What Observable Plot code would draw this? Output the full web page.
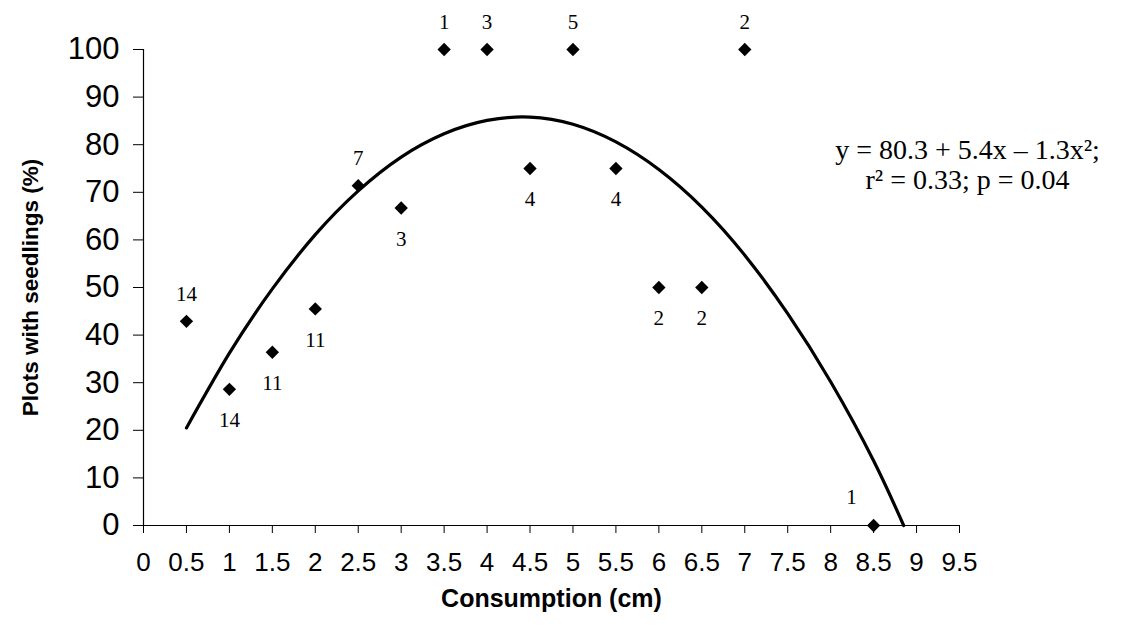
<!DOCTYPE html>
<html>
<head>
<meta charset="utf-8">
<script src="https://cdn.jsdelivr.net/npm/d3@7"></script>
<script src="https://cdn.jsdelivr.net/npm/@observablehq/plot@0.6"></script>
<style>
  html, body { margin: 0; padding: 0; background: #fff; }
</style>
</head>
<body>
<div id="chart"></div>
<script>
// Observed points
const consumption = [0.5, 1, 1.5, 2, 2.5, 3, 3.5, 4, 4.5, 5, 5.5, 6, 6.5, 7, 8.5];
const seedlingsPct = [42.9, 28.6, 36.4, 45.5, 71.4, 66.7, 100, 100, 75, 100, 75, 50, 50, 100, 0];
const sampleSize = ["14", "14", "11", "11", "7", "3", "1", "3", "4", "5", "4", "2", "2", "2", "1"];
const labelSide = ["above", "below", "below", "below", "above", "below", "above", "above", "below", "above", "below", "below", "below", "above", "aboveLeft"];

// Fitted curve
const curveX = [0.5, 1, 1.5, 2, 2.5, 3, 3.5, 4, 4.5, 5, 5.5, 6, 6.5, 7, 7.5, 8, 8.5, 8.85];
const curveY = [20.5, 36.2, 49.7, 61.1, 70.3, 77.4, 82.3, 85.1, 85.8, 84.3, 80.6, 74.8, 66.9, 56.8, 44.5, 30.2, 13.6, 0];

// Axis ticks
const xTicks = d3.range(0, 9.51, 0.5);
const yTicks = d3.range(0, 101, 10);
const xTickLabels = ["0", "0.5", "1", "1.5", "2", "2.5", "3", "3.5", "4", "4.5", "5", "5.5", "6", "6.5", "7", "7.5", "8", "8.5", "9", "9.5"];

const equationText = "y = 80.3 + 5.4x \u2013 1.3x\u00b2;\nr\u00b2 = 0.33; p = 0.04";
const xTitle = "Consumption (cm)";
const yTitle = "Plots with seedlings (%)";

const points = consumption.map((x, i) => ({x, y: seedlingsPct[i], n: sampleSize[i], side: labelSide[i]}));
const curve = curveX.map((x, i) => ({x, y: curveY[i]}));

const serif = "'Liberation Serif', 'Times New Roman', serif";
const sans = "'Liberation Sans', Arial, sans-serif";

const chart = Plot.plot({
  width: 1128,
  height: 638,
  marginLeft: 143,
  marginRight: 169,
  marginTop: 49,
  marginBottom: 113,
  style: {fontFamily: sans, color: "#000", background: "#fff"},
  x: {domain: [0, 9.5]},
  y: {domain: [0, 100]},
  marks: [
    Plot.axisY({ticks: yTicks, tickSize: 10, tickPadding: 14, fontSize: 31, label: null, stroke: "#000"}),
    Plot.axisX({ticks: xTicks, tickFormat: (d, i) => xTickLabels[i], tickSize: 8, tickPadding: 19, fontSize: 26, label: null, stroke: "#000"}),
    Plot.ruleX([0], {stroke: "#000", strokeWidth: 1.2}),
    Plot.ruleY([0], {stroke: "#000", strokeWidth: 1.2}),
    Plot.line(curve, {x: "x", y: "y", curve: "natural", stroke: "#000", strokeWidth: 3.2}),
    Plot.dot(points, {x: "x", y: "y", symbol: "diamond2", r: 6, fill: "#000", stroke: "none"}),
    Plot.text(points.filter(d => d.side === "above"), {x: "x", y: "y", text: "n", dy: -27, fontSize: 21, fontFamily: serif, fill: "#000"}),
    Plot.text(points.filter(d => d.side === "aboveLeft"), {x: "x", y: "y", text: "n", dy: -28, dx: -22, fontSize: 21, fontFamily: serif, fill: "#000"}),
    Plot.text(points.filter(d => d.side === "below"), {x: "x", y: "y", text: "n", dy: 31, fontSize: 21, fontFamily: serif, fill: "#000"}),
    Plot.text([equationText], {frameAnchor: "top-right", lineAnchor: "top", textAnchor: "middle", lineHeight: 1.08, dx: 8, dy: 88, fontSize: 28, fontFamily: serif, fill: "#000"}),
    Plot.text([yTitle], {frameAnchor: "left", textAnchor: "middle", rotate: -90, dx: -113, fontSize: 22.5, fontWeight: "bold", fontFamily: sans, fill: "#000"}),
    Plot.text([xTitle], {frameAnchor: "bottom", textAnchor: "middle", dy: 81, fontSize: 25, fontWeight: "bold", fontFamily: sans, fill: "#000"})
  ]
});

document.getElementById("chart").appendChild(chart);
</script>
</body>
</html>
